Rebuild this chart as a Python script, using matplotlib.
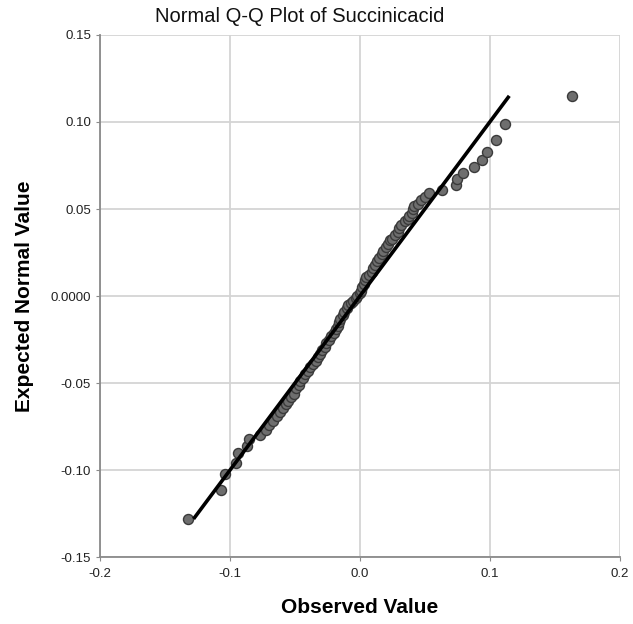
import numpy as np
import matplotlib
matplotlib.use("Agg")
import matplotlib.pyplot as plt

observed = [-0.132, -0.107, -0.104, -0.095, -0.094, -0.087, -0.085, -0.077, -0.072, -0.070,
            -0.067, -0.064, -0.0615, -0.059, -0.057, -0.055, -0.053, -0.051, -0.049, -0.047,
            -0.046, -0.044, -0.042, -0.040, -0.038, -0.036, -0.034, -0.032, -0.031, -0.029,
            -0.027, -0.026, -0.024, -0.022, -0.020, -0.018, -0.017, -0.016, -0.015, -0.013,
            -0.012, -0.010, -0.009, -0.007, -0.005, -0.003, -0.002, 0.000, 0.001, 0.002,
            0.003, 0.004, 0.005, 0.007, 0.009, 0.010, 0.0115, 0.013, 0.015, 0.017,
            0.018, 0.020, 0.022, 0.023, 0.025, 0.027, 0.029, 0.030, 0.032, 0.035,
            0.037, 0.038, 0.040, 0.041, 0.042, 0.045, 0.047, 0.050, 0.053, 0.063,
            0.074, 0.075, 0.0795, 0.088, 0.094, 0.0975, 0.105, 0.112, 0.163]
expected = [-0.128, -0.1115, -0.102, -0.096, -0.090, -0.086, -0.082, -0.080, -0.077, -0.074,
            -0.072, -0.069, -0.0665, -0.064, -0.062, -0.060, -0.058, -0.056, -0.053, -0.051,
            -0.049, -0.047, -0.045, -0.043, -0.041, -0.039, -0.037, -0.035, -0.033, -0.031,
            -0.029, -0.027, -0.025, -0.023, -0.021, -0.019, -0.017, -0.015, -0.013, -0.011,
            -0.009, -0.007, -0.005, -0.004, -0.003, -0.001, 0.000, 0.002, 0.003, 0.005,
            0.007, 0.009, 0.011, 0.012, 0.014, 0.016, 0.018, 0.020, 0.022, 0.024,
            0.026, 0.028, 0.030, 0.032, 0.033, 0.035, 0.037, 0.039, 0.041, 0.043,
            0.044, 0.046, 0.048, 0.050, 0.052, 0.053, 0.055, 0.057, 0.059, 0.061,
            0.064, 0.067, 0.0705, 0.074, 0.078, 0.083, 0.0897, 0.099, 0.115]

x_ticks = [-0.2, -0.1, 0.0, 0.1, 0.2]
x_labels = ['-0.2', '-0.1', '0.0', '0.1', '0.2']
y_ticks = [-0.15, -0.10, -0.05, 0.0, 0.05, 0.10, 0.15]
y_labels = ['-0.15', '-0.10', '-0.05', '0.0000', '0.05', '0.10', '0.15']

plt.rcParams['font.family'] = ['Liberation Sans', 'DejaVu Sans']

fig = plt.figure(figsize=(6.33, 6.24), dpi=100)
ax = fig.add_axes([0.158, 0.107, 0.821, 0.837])

ax.scatter(observed, expected, s=52, color='#6e6e6e', edgecolors='#3a3a3a',
           linewidths=1.0, zorder=3)
# reference line y = x over the expected range
lo, hi = min(expected), max(expected)
ax.plot([lo, hi], [lo, hi], color='black', linewidth=2.6, zorder=4,
        solid_capstyle='butt')

ax.set_xlim(-0.2, 0.2)
ax.set_ylim(-0.15, 0.15)
ax.set_xticks(x_ticks)
ax.set_xticklabels(x_labels)
ax.set_yticks(y_ticks)
ax.set_yticklabels(y_labels)
ax.grid(True, color='#d4d4d4', linewidth=1.3, zorder=0)
ax.set_axisbelow(True)

for s in ['top', 'right']:
    ax.spines[s].set_visible(False)
for s in ['left', 'bottom']:
    ax.spines[s].set_color('#8a8a8a')
    ax.spines[s].set_linewidth(1.3)
ax.tick_params(axis='both', length=3, color='#8a8a8a', labelsize=9.5,
               labelcolor='#222222')
ax.tick_params(axis='x', pad=5)

fig.text(155 / 633, 1 - 17 / 624, 'Normal Q-Q Plot of Succinicacid',
         ha='left', va='center', fontsize=14.5, color='#111111')
ax.set_xlabel('Observed Value', fontsize=15, fontweight='bold', labelpad=13)
ax.set_ylabel('Expected Normal Value', fontsize=15, fontweight='bold', labelpad=12)

plt.savefig('out.png', dpi=100)
